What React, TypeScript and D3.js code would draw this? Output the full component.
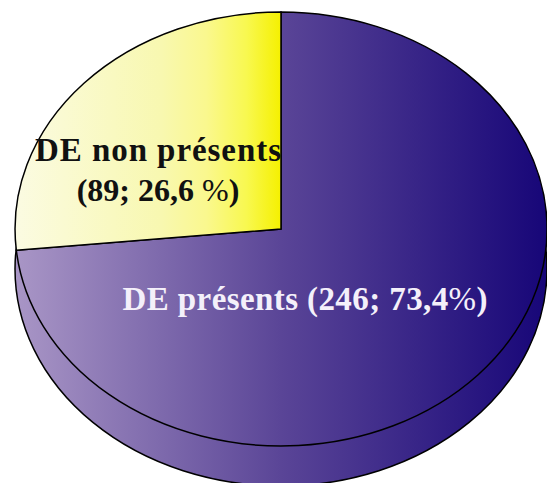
import React from "react";
import * as d3 from "d3";

const categories = ["DE présents", "DE non présents"];
const counts = [246, 89];
const percentValues = ["73,4", "26,6 "];

const W = 547, H = 483;
const cx = 281, cy = 229, rx = 266, ry = 217, depth = 40;

export default function App() {
  const pie = d3.pie<number>().sort(null).value((d) => d);
  const arcs = pie(counts);
  const arc = d3.arc<d3.PieArcDatum<number>>().innerRadius(0).outerRadius(1);
  const full = d3.arc()({ innerRadius: 0, outerRadius: 1, startAngle: 0, endAngle: 2 * Math.PI }) as string;
  const serif = "'Liberation Serif', 'DejaVu Serif', serif";
  const t = `translate(${cx},${cy}) scale(${rx},${ry})`;
  const tSide = `translate(${cx},${cy + depth}) scale(${rx},${ry})`;
  const fills = ["url(#purple)", "url(#yellow)"];
  return (
    <svg width={W} height={H} style={{ position: "fixed", left: 0, top: 0, background: "#fff" }}>
      <defs>
        <linearGradient id="purple" gradientUnits="userSpaceOnUse" x1={-1} x2={1} y1={0} y2={0}>
          <stop offset="0" stopColor="#a996c6" />
          <stop offset="0.5" stopColor="#5a4597" />
          <stop offset="1" stopColor="#170678" />
        </linearGradient>
        <linearGradient id="yellow" gradientUnits="userSpaceOnUse" x1={-1} x2={0} y1={0} y2={0}>
          <stop offset="0" stopColor="#fbfbe2" />
          <stop offset="0.55" stopColor="#f8f8b0" />
          <stop offset="0.72" stopColor="#faf88e" />
          <stop offset="0.87" stopColor="#f8f850" />
          <stop offset="1" stopColor="#f5f000" />
        </linearGradient>
      </defs>
      <path d={full} transform={tSide} fill="url(#purple)" stroke="#000" strokeWidth={1.5} vectorEffect="non-scaling-stroke" />
      {arcs.map((a, i) => (
        <path key={categories[i]} d={arc(a) as string} transform={t} fill={fills[i]} stroke="#000" strokeWidth={1.5} vectorEffect="non-scaling-stroke" />
      ))}
      <g fontFamily={serif} fontWeight="bold" textAnchor="middle" fontSize={32}>
        <text x={158} y={161} fill="#111" fontSize={33} textLength={246} lengthAdjust="spacing">{categories[1]}</text>
        <text x={158} y={201} fill="#111">
          ({counts[1]}; {percentValues[1]}<tspan fontWeight="normal">%</tspan>)
        </text>
        <text x={305} y={310} fill="#f4f0fa" fontSize={33} textLength={365} lengthAdjust="spacing">
          {categories[0]} ({counts[0]}; {percentValues[0]}<tspan fontWeight="normal">%</tspan>)
        </text>
      </g>
    </svg>
  );
}
